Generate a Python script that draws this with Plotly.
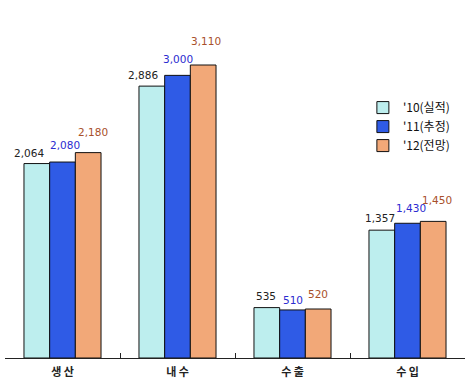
import plotly.graph_objects as go

categories = ["생 산", "내 수", "수 출", "수 입"]
series_names = ["'10(실적)", "'11(추정)", "'12(전망)"]
v2010 = [2064, 2886, 535, 1357]
v2011 = [2080, 3000, 510, 1430]
v2012 = [2180, 3110, 520, 1450]

fills = ["#bdeeee", "#2f5be6", "#f2a878"]
text_colors = ["#222222", "#2b2bd0", "#a8502a"]

# label nudges (pixels) relative to each bar's top-centre, as placed in the original
label_dx = [[-8, -9, -1, -2], [2, 0, 0, 3], [5, 3, 0, 4]]
label_dy = [[11, 11, 12, 12], [17, 16, 10, 15], [21, 24, 15, 21]]

bargap = 0.33
cat_px = 115
bar_px = cat_px * (1 - bargap) / 3

fig = go.Figure()
annotations = []
for i, (name, vals, fc, tc) in enumerate(zip(series_names, [v2010, v2011, v2012], fills, text_colors)):
    fig.add_trace(go.Bar(
        x=categories, y=vals, name=name,
        marker=dict(color=fc, line=dict(color="#111111", width=1)),
        hoverinfo="skip",
    ))
    for j, (c, v) in enumerate(zip(categories, vals)):
        annotations.append(dict(
            x=c, y=v, xref="x", yref="y", text=f"{v:,}", showarrow=False,
            xanchor="center", yanchor="middle",
            xshift=(i - 1) * bar_px + label_dx[i][j], yshift=label_dy[i][j],
            font=dict(color=tc, size=10.5, family="DejaVu Sans"),
        ))

fig.update_layout(
    width=471, height=385,
    margin=dict(l=5, r=6, t=0, b=27, autoexpand=False),
    paper_bgcolor="white", plot_bgcolor="white",
    barmode="group", bargap=bargap, bargroupgap=0,
    showlegend=True,
    annotations=annotations,
    legend=dict(x=0.778, y=0.74, xanchor="left", yanchor="top",
                font=dict(size=12, family="Noto Sans CJK KR", color="#111111"),
                bgcolor="rgba(0,0,0,0)", tracegroupgap=0, itemwidth=30),
    xaxis=dict(showline=True, linecolor="#222222", linewidth=1,
               ticks="inside", ticklen=5, tickcolor="#222222",
               tickson="boundaries", showgrid=False, ticklabelstandoff=4,
               tickfont=dict(size=11, family="Noto Sans CJK KR", color="#222222", weight="bold")),
    yaxis=dict(range=[0, 3800], visible=False, showgrid=False),
)

fig.write_html("out.html", config={"displayModeBar": False},
               post_script="document.body.style.margin='0px';")
